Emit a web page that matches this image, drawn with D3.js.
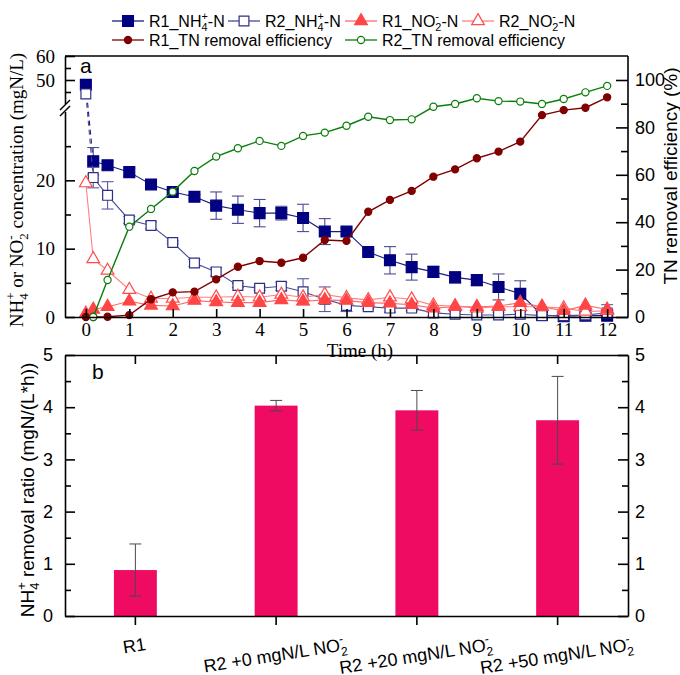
<!DOCTYPE html>
<html>
<head>
<meta charset="utf-8">
<script src="https://cdn.jsdelivr.net/npm/d3@7"></script>
<style>
  body { margin: 0; background: #fff; }
  text { white-space: pre; }
</style>
</head>
<body>
<svg id="chart" width="680" height="675"></svg>
<script>
// ---- data ----
var time = [0, 0.17, 0.5, 1, 1.5, 2, 2.5, 3, 3.5, 4, 4.5, 5, 5.5, 6, 6.5, 7, 7.5, 8, 8.5, 9, 9.5, 10, 10.5, 11, 11.5, 12];

var r1NH4    = [48, 22.8, 22.2, 21.2, 19.4, 18.3, 17.6, 16.3, 15.7, 15.2, 15.2, 14.5, 12.5, 12.5, 9.5, 8.3, 7.3, 6.6, 5.8, 5.4, 4.4, 3.4, 0.3, 0.1, 0.2, 0.2];
var r1NH4Err = [0, 2, 0.6, 0.6, 0.3, 0.4, 0.3, 2, 2, 2, 1, 2, 1.9, 0.5, 0.4, 2, 1.9, 0.8, 0.8, 0.8, 1.9, 1.9, 0.3, 0.2, 0.3, 0.3];
var r2NH4    = [44.2, 20.4, 17.8, 14.2, 13.4, 10.9, 7.9, 6.6, 4.6, 4.2, 4.5, 3.7, 2.6, 1.7, 1.5, 1.3, 1.3, 0.6, 0.4, 0.3, 0.3, 0.4, 0.2, 0.2, 0.3, 0.6];
var r2NH4Err = [0, 1.5, 2, 0.5, 0.5, 0.2, 0.5, 0.6, 0.3, 0.3, 0.6, 1.9, 1.8, 0.9, 0.3, 0.6, 0.4, 0.5, 0.4, 0.4, 0.4, 0.4, 0.3, 0.3, 0.4, 1.2];
var r1NO2    = [0.5, 1.1, 1.5, 2.3, 1.7, 1.6, 2.4, 2.2, 2.1, 2.1, 2.5, 2.3, 2.5, 2.4, 2.1, 2.0, 1.8, 1.3, 1.5, 1.5, 1.6, 2.1, 1.5, 0.9, 1.7, 1.1];
var r2NO2    = [19.6, 8.5, 6.8, 4.0, 2.7, 2.7, 2.9, 2.9, 3.0, 2.9, 3.3, 2.9, 3.3, 2.8, 2.5, 2.9, 2.6, 1.7, 1.6, 1.3, 1.5, 1.5, 1.5, 1.3, 0.8, 0.9];
var r1TN     = [0, 0, 0.1, 0.8, 7.5, 10.4, 10.7, 15.9, 21.2, 23.6, 22.9, 25, 32.5, 32.1, 44.4, 49.4, 53.2, 59.2, 62.3, 67, 69.8, 74, 85.2, 87.3, 88.3, 92.7];
var r2TN     = [null, 0, 15.6, 38.1, 45.6, 52.9, 61.6, 67.7, 71.2, 74.3, 72.2, 76.4, 77.8, 80.7, 84.5, 83.1, 83.4, 88.7, 89.9, 92.3, 91.1, 90.9, 89.9, 92, 94.8, 97.5];

var timeTicks = [0, 1, 2, 3, 4, 5, 6, 7, 8, 9, 10, 11, 12];
var concTicks = [0, 10, 20, 50, 60];
var concMinor = [5, 15, 25, 45, 55];
var effTicks = [0, 20, 40, 60, 80, 100];
var effMinor = [10, 30, 50, 70, 90];

var rateCats = ["R1", "R2 +0 mgN/L NO{2|-}", "R2 +20 mgN/L NO{2|-}", "R2 +50 mgN/L NO{2|-}"];
var rateVals = [0.88, 4.03, 3.94, 3.75];
var rateErr  = [0.5, 0.1, 0.38, 0.84];
var rateTicks = [0, 1, 2, 3, 4, 5];
var rateMinor = [0.5, 1.5, 2.5, 3.5, 4.5];

// ---- helpers ----
var SERIF = "'Liberation Serif', 'Times New Roman', serif";
var SANS = "'Liberation Sans', Arial, sans-serif";

// "{a|b}" = subscript a with superscript b stacked above it
function richText(sel, str, fs) {
  var parts = str.split(/(\{[^}]*\})/).filter(function (p) { return p !== ""; });
  var shift = 0, padDx = 0;
  parts.forEach(function (p) {
    var m = p.match(/^\{([^|]*)\|([^}]*)\}$/);
    if (m) {
      var sub = sel.append("tspan").attr("font-size", fs * 0.68).attr("dx", padDx).attr("dy", fs * 0.28 - shift).text(m[1]);
      var w1 = sub.node().getComputedTextLength();
      var sup = sel.append("tspan").attr("font-size", fs * 0.68).attr("dx", -w1).attr("dy", -fs * 0.72).text(m[2]);
      var w2 = sup.node().getComputedTextLength();
      shift = fs * 0.28 - fs * 0.72;
      padDx = Math.max(0, w1 - w2);
    } else {
      sel.append("tspan").attr("dx", padDx).attr("dy", -shift).text(p);
      shift = 0; padDx = 0;
    }
  });
}

function styleAxis(g, font, size) {
  g.selectAll("path.domain").attr("stroke", "#000").attr("stroke-width", 1.6);
  g.selectAll(".tick line").attr("stroke", "#000").attr("stroke-width", 1.6);
  g.selectAll(".tick text").attr("font-family", font).attr("font-size", size).attr("fill", "#000");
}

var svg = d3.select("#chart");
svg.append("rect").attr("width", 680).attr("height", 675).attr("fill", "#fff");

// ================= panel a =================
var A = { left: 65, right: 628, top: 56, bottom: 317 };

var x = d3.scaleLinear().domain([-0.48, 12.48]).range([A.left, A.right]);
var yL = d3.scaleLinear().domain([0, 30, 40, 60]).range([A.bottom, 112, 104, A.top]);
var yR = d3.scaleLinear().domain([0, 100]).range([A.bottom, 80]);

var series = [
  { name: "R1_NH{4|+}-N", vals: r1NH4, err: r1NH4Err, y: yL, sym: d3.symbolSquare, size: 118, fill: "#000080", stroke: "#000080", line: "#1c1c78", ebar: "#4a4a96", dashFirst: true },
  { name: "R2_NH{4|+}-N", vals: r2NH4, err: r2NH4Err, y: yL, sym: d3.symbolSquare, size: 96, fill: "#fff", stroke: "#2e2e88", line: "#4a4a98", ebar: "#5a5aa6", dashFirst: true },
  { name: "R2_NO{2|-}-N", vals: r2NO2, y: yL, sym: d3.symbolTriangle, size: 70, fill: "#fff", stroke: "#ff4d4d", line: "#ff8080" },
  { name: "R1_NO{2|-}-N", vals: r1NO2, y: yL, sym: d3.symbolTriangle, size: 70, fill: "#ff4545", stroke: "#ff4545", line: "#ff6a6a" },
  { name: "R1_TN removal efficiency", vals: r1TN, y: yR, sym: d3.symbolCircle, size: 40, fill: "#800000", stroke: "#800000", line: "#800000" },
  { name: "R2_TN removal efficiency", vals: r2TN, y: yR, sym: d3.symbolCircle, size: 40, fill: "#fff", stroke: "#0a7d0a", line: "#0a7d0a" }
];

var plotA = svg.append("g");

series.forEach(function (s) {
  var pts = time.map(function (t, i) { return { t: t, v: s.vals[i], e: s.err ? s.err[i] : 0 }; })
    .filter(function (d) { return d.v != null; });
  var line = d3.line().x(function (d) { return x(d.t); }).y(function (d) { return s.y(d.v); });
  var g = plotA.append("g");

  if (s.dashFirst) {
    g.append("path").attr("d", line(pts.slice(0, 2))).attr("fill", "none")
      .attr("stroke", s.line).attr("stroke-width", 1.1).attr("stroke-dasharray", "5,4");
    g.append("path").attr("d", line(pts.slice(1))).attr("fill", "none")
      .attr("stroke", s.line).attr("stroke-width", 1.1);
  } else {
    g.append("path").attr("d", line(pts)).attr("fill", "none")
      .attr("stroke", s.line).attr("stroke-width", s.y === yR ? 1.4 : 1.1);
  }

  if (s.err) {
    var eb = g.selectAll(".eb").data(pts.filter(function (d) { return d.e > 0; })).enter().append("g");
    eb.append("line")
      .attr("x1", function (d) { return x(d.t); }).attr("x2", function (d) { return x(d.t); })
      .attr("y1", function (d) { return s.y(Math.max(0, d.v - d.e)); })
      .attr("y2", function (d) { return s.y(d.v + d.e); })
      .attr("stroke", s.ebar).attr("stroke-width", 1.1);
    [-1, 1].forEach(function (sign) {
      eb.append("line")
        .attr("x1", function (d) { return x(d.t) - 6; }).attr("x2", function (d) { return x(d.t) + 6; })
        .attr("y1", function (d) { return s.y(Math.max(0, d.v + sign * d.e)); })
        .attr("y2", function (d) { return s.y(Math.max(0, d.v + sign * d.e)); })
        .attr("stroke", s.ebar).attr("stroke-width", 1.1);
    });
  }

  g.selectAll(".pt").data(pts).enter().append("path")
    .attr("d", d3.symbol().type(s.sym).size(s.size))
    .attr("transform", function (d) { return "translate(" + x(d.t) + "," + s.y(d.v) + ")"; })
    .attr("fill", s.fill).attr("stroke", s.stroke).attr("stroke-width", 1.2);
});

// axes of panel a
var gx = svg.append("g").attr("transform", "translate(0," + A.bottom + ")")
  .call(d3.axisBottom(x).tickValues(timeTicks).tickSizeInner(-8).tickSizeOuter(0).tickPadding(6));
styleAxis(gx, SERIF, 19);

var gl = svg.append("g").attr("transform", "translate(" + A.left + ",0)")
  .call(d3.axisLeft(yL).tickValues(concTicks).tickSizeInner(-10).tickSizeOuter(0).tickPadding(10));
styleAxis(gl, SERIF, 19);
svg.append("g").attr("transform", "translate(" + A.left + ",0)")
  .call(d3.axisLeft(yL).tickValues(concMinor).tickSizeInner(-6).tickSizeOuter(0).tickFormat(""))
  .call(function (g) { g.select(".domain").remove(); styleAxis(g, SERIF, 19); });

var gr = svg.append("g").attr("transform", "translate(" + A.right + ",0)")
  .call(d3.axisRight(yR).tickValues(effTicks).tickSizeInner(-12).tickSizeOuter(0).tickPadding(7));
gr.select(".domain").remove();
styleAxis(gr, SANS, 18);
svg.append("g").attr("transform", "translate(" + A.right + ",0)")
  .call(d3.axisRight(yR).tickValues(effMinor).tickSizeInner(-7).tickSizeOuter(0).tickFormat(""))
  .call(function (g) { g.select(".domain").remove(); styleAxis(g, SANS, 18); });

// frame of panel a
svg.append("line").attr("x1", A.left).attr("x2", A.right).attr("y1", A.top).attr("y2", A.top)
  .attr("stroke", "#000").attr("stroke-width", 1.6);
svg.append("line").attr("x1", A.right).attr("x2", A.right).attr("y1", A.top).attr("y2", A.bottom)
  .attr("stroke", "#000").attr("stroke-width", 1.6);

// axis break on the left axis
var brk = (yL(30) + yL(40)) / 2;
svg.append("rect").attr("x", A.left - 3).attr("y", brk - 4).attr("width", 6).attr("height", 8).attr("fill", "#fff");
[-3, 3].forEach(function (o) {
  svg.append("line").attr("x1", A.left - 5).attr("y1", brk + o + 5).attr("x2", A.left + 5).attr("y2", brk + o - 5)
    .attr("stroke", "#000").attr("stroke-width", 1.4);
});

svg.append("text").attr("x", 80).attr("y", 73).attr("font-family", SANS).attr("font-size", 21).text("a");

svg.append("text").attr("x", 360).attr("y", 357).attr("text-anchor", "middle")
  .attr("font-family", SERIF).attr("font-size", 19).text("Time (h)");

var tl = svg.append("text").attr("transform", "translate(23,190) rotate(-90)").attr("text-anchor", "middle")
  .attr("font-family", SERIF).attr("font-size", 19);
richText(tl, "NH{4|+} or NO{2|-} concentration (mgN/L)", 19);

svg.append("text").attr("transform", "translate(677,176) rotate(-90)").attr("text-anchor", "middle")
  .attr("font-family", SANS).attr("font-size", 19).text("TN removal efficiency (%)");

// legend
var legendPos = [
  [112, 21], [228, 21], [345, 21], [462, 21], [112, 40], [345, 40]
];
var legendOrder = [0, 1, 3, 2, 4, 5];
legendOrder.forEach(function (si, k) {
  var s = series[si], p = legendPos[k];
  var g = svg.append("g").attr("transform", "translate(" + p[0] + "," + p[1] + ")");
  g.append("line").attr("x1", 0).attr("x2", 32).attr("stroke", s.line).attr("stroke-width", 1.3);
  g.append("path").attr("d", d3.symbol().type(s.sym).size(s.size)).attr("transform", "translate(16,0)")
    .attr("fill", s.fill).attr("stroke", s.stroke).attr("stroke-width", 1.2);
  var t = g.append("text").attr("x", 37).attr("y", 6).attr("font-family", SANS).attr("font-size", 16);
  richText(t, s.name, 16);
});

// ================= panel b =================
var B = { left: 65, right: 628, top: 355, bottom: 616 };
var xb = d3.scaleBand().domain(rateCats).range([B.left, B.right]).paddingInner(0.695).paddingOuter(0.3475);
var yb = d3.scaleLinear().domain([0, 5]).range([B.bottom, B.top]);

svg.append("g").selectAll("rect").data(rateCats).enter().append("rect")
  .attr("x", function (d) { return xb(d); })
  .attr("width", xb.bandwidth())
  .attr("y", function (d, i) { return yb(rateVals[i]); })
  .attr("height", function (d, i) { return B.bottom - yb(rateVals[i]); })
  .attr("fill", "#ef0a62");

var ebg = svg.append("g").selectAll("g").data(rateCats).enter().append("g")
  .attr("transform", function (d) { return "translate(" + (xb(d) + xb.bandwidth() / 2) + ",0)"; });
ebg.append("line").attr("y1", function (d, i) { return yb(rateVals[i] - rateErr[i]); })
  .attr("y2", function (d, i) { return yb(rateVals[i] + rateErr[i]); })
  .attr("stroke", "#4a4a4a").attr("stroke-width", 1);
[-1, 1].forEach(function (sign) {
  ebg.append("line").attr("x1", -6).attr("x2", 6)
    .attr("y1", function (d, i) { return yb(rateVals[i] + sign * rateErr[i]); })
    .attr("y2", function (d, i) { return yb(rateVals[i] + sign * rateErr[i]); })
    .attr("stroke", "#4a4a4a").attr("stroke-width", 1);
});

var gbx = svg.append("g").attr("transform", "translate(0," + B.bottom + ")")
  .call(d3.axisBottom(xb).tickSizeInner(9).tickSizeOuter(0).tickFormat(""));
styleAxis(gbx, SANS, 18);
var gbt = svg.append("g").attr("transform", "translate(0," + B.top + ")")
  .call(d3.axisTop(xb).tickSizeInner(-9).tickSizeOuter(0).tickFormat(""));
styleAxis(gbt, SANS, 18);

var gbl = svg.append("g").attr("transform", "translate(" + B.left + ",0)")
  .call(d3.axisLeft(yb).tickValues(rateTicks).tickSizeInner(-10).tickSizeOuter(0).tickPadding(12).tickFormat(d3.format("d")));
styleAxis(gbl, SANS, 18);
svg.append("g").attr("transform", "translate(" + B.left + ",0)")
  .call(d3.axisLeft(yb).tickValues(rateMinor).tickSizeInner(-6).tickSizeOuter(0).tickFormat(""))
  .call(function (g) { g.select(".domain").remove(); styleAxis(g, SANS, 18); });

var gbr = svg.append("g").attr("transform", "translate(" + B.right + ",0)")
  .call(d3.axisRight(yb).tickValues(rateTicks).tickSizeInner(-10).tickSizeOuter(0).tickPadding(7).tickFormat(d3.format("d")));
styleAxis(gbr, SANS, 18);
svg.append("g").attr("transform", "translate(" + B.right + ",0)")
  .call(d3.axisRight(yb).tickValues(rateMinor).tickSizeInner(-6).tickSizeOuter(0).tickFormat(""))
  .call(function (g) { g.select(".domain").remove(); styleAxis(g, SANS, 18); });

// rotated category labels: the top of each rotated label sits at the same height
var ang = 9, labTop = 641, labFs = 18;
rateCats.forEach(function (c) {
  var cx = xb(c) + xb.bandwidth() / 2;
  var t = svg.append("text").attr("text-anchor", "middle").attr("dy", "0.35em")
    .attr("font-family", SANS).attr("font-size", labFs);
  richText(t, c, labFs);
  var w = t.node().getBBox().width;
  var r = ang * Math.PI / 180;
  var cy = labTop + (w * Math.sin(r) + labFs * Math.cos(r)) / 2;
  t.attr("transform", "translate(" + cx + "," + cy + ") rotate(" + (-ang) + ")");
});

svg.append("text").attr("x", 92).attr("y", 379).attr("font-family", SANS).attr("font-size", 21).text("b");

var tb = svg.append("text").attr("transform", "translate(34,490) rotate(-90)").attr("text-anchor", "middle")
  .attr("font-family", SANS).attr("font-size", 19);
richText(tb, "NH{4|+} removal ratio (mgN/(L*h))", 19);
</script>
</body>
</html>
